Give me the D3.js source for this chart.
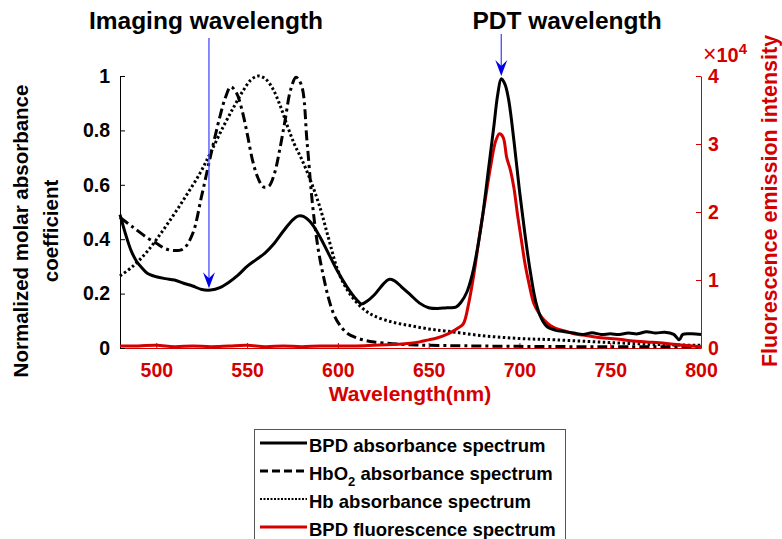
<!DOCTYPE html>
<html>
<head>
<meta charset="utf-8">
<script src="https://cdn.jsdelivr.net/npm/d3@7"></script>
<style>
  body { margin: 0; background: #fff; }
  text { font-family: "Liberation Sans", Arial, sans-serif; font-weight: bold; }
</style>
</head>
<body>
<script>
//BPD absorbance spectrum (normalized)
var bpdWl = [480,483,486,489,492,495,500,505,510,515,520,525,530,535,540,545,550,555,560,565,570,575,578,581,585,590,595,600,605,610,613,616,620,625,628,631,635,640,645,650,655,660,665,668,671,674,677,680,683,686,688,690,692,694,697,700,703,706,709,712,715,720,725,730,735,740,745,750,755,760,765,770,775,780,785,788,790,795,800];
var bpdAbs = [0.49,0.42,0.36,0.32,0.295,0.275,0.262,0.255,0.25,0.238,0.228,0.215,0.213,0.222,0.242,0.268,0.3,0.325,0.35,0.385,0.43,0.47,0.485,0.484,0.462,0.41,0.345,0.28,0.225,0.18,0.162,0.172,0.195,0.235,0.252,0.248,0.225,0.195,0.165,0.148,0.145,0.148,0.15,0.17,0.205,0.27,0.37,0.5,0.66,0.82,0.93,0.99,0.97,0.915,0.76,0.58,0.42,0.28,0.17,0.11,0.08,0.065,0.06,0.055,0.05,0.056,0.05,0.052,0.05,0.055,0.052,0.06,0.055,0.058,0.05,0.03,0.05,0.052,0.05];

//HbO2 absorbance spectrum (normalized)
var hbo2Wl = [480,487,495,500,505,510,515,520,525,530,535,538,541,544,547,550,553,556,559,562,565,568,571,574,577,580,583,586,589,592,595,598,601,605,610,615,620,630,640,650,670,700,730,760,800];
var hbo2Abs = [0.48,0.445,0.405,0.385,0.365,0.358,0.365,0.42,0.56,0.71,0.85,0.92,0.96,0.94,0.88,0.79,0.69,0.625,0.592,0.595,0.64,0.73,0.84,0.95,0.995,0.965,0.76,0.53,0.37,0.265,0.18,0.12,0.085,0.055,0.038,0.028,0.022,0.016,0.012,0.01,0.008,0.006,0.005,0.005,0.004];

//Hb absorbance spectrum (normalized)
var hbWl = [480,487,495,505,515,524,530,537,543,548,552,556,560,564,568,572,576,580,585,590,595,600,605,610,615,620,630,640,650,660,680,700,720,750,780,800];
var hbAbs = [0.265,0.3,0.355,0.445,0.545,0.642,0.72,0.815,0.89,0.948,0.985,1.0,0.99,0.955,0.895,0.82,0.75,0.695,0.615,0.52,0.4,0.285,0.215,0.17,0.138,0.118,0.095,0.082,0.07,0.062,0.045,0.035,0.03,0.02,0.012,0.01];

//BPD fluorescence emission (counts)
var flWl = [480,490,500,510,520,530,540,550,560,570,580,590,600,610,620,630,640,645,650,655,660,663,666,669,672,675,678,681,684,687,689,691,693,695,697,699,701,703,705,708,711,714,717,720,725,730,735,740,745,750,755,760,770,780,790,800];
var flInt = [300,300,400,200,300,200,300,400,200,300,200,300,300,300,400,500,700,900,1200,1500,2000,2400,2900,3500,6500,11000,16500,21500,26500,30500,31500,31000,28000,26200,23500,19500,16000,12500,9800,6500,5000,4000,3300,2900,2500,2100,1900,1700,1500,1400,1300,1100,900,700,400,200];

//tick values and legend labels
var xTicks = [500,550,600,650,700,750,800];
var yTicks = [0,0.2,0.4,0.6,0.8,1];
var y2Ticks = [0,10000,20000,30000,40000];
var legendNames = ["BPD absorbance spectrum", "HbO", "Hb absorbance spectrum", "BPD fluorescence spectrum"];

window.onload = function(){
  var red = "#d40000";
  var svg = d3.select("body")
    .append("svg")
    .attr("width", 782)
    .attr("height", 539);

  //scales
  var x = d3.scaleLinear().domain([480, 800]).range([120, 701]);
  var y = d3.scaleLinear().domain([0, 1]).range([348, 76]);
  var y2 = d3.scaleLinear().domain([0, 40000]).range([348, 76]);

  //line generators
  var absLine = function(wl){
    return d3.line()
      .x(function(d, i){ return x(wl[i]); })
      .y(function(d){ return y(d); })
      .curve(d3.curveCatmullRom);
  };
  var flLine = d3.line()
    .x(function(d, i){ return x(flWl[i]); })
    .y(function(d){ return y2(d); })
    .curve(d3.curveCatmullRom);

  //axes, ticks pointing into the plot
  var xAxis = svg.append("g")
    .attr("transform", "translate(0,348)")
    .call(d3.axisBottom(x).tickValues(xTicks).tickSize(-5).tickSizeOuter(0).tickPadding(15));
  xAxis.selectAll("line, path").attr("stroke", red);
  xAxis.selectAll("text").attr("fill", red).style("font-size", "19.5px").style("font-family", null);

  var yAxis = svg.append("g")
    .attr("transform", "translate(120,0)")
    .call(d3.axisLeft(y).tickValues(yTicks).tickSize(-5).tickSizeOuter(0).tickPadding(10)
      .tickFormat(function(d){ return d === 0 || d === 1 ? d : d3.format(".1f")(d); }));
  yAxis.selectAll("text").attr("fill", "#000").style("font-size", "19.5px").style("font-family", null);

  var y2Axis = svg.append("g")
    .attr("transform", "translate(701,0)")
    .call(d3.axisRight(y2).tickValues(y2Ticks).tickSize(-5).tickSizeOuter(0).tickPadding(7)
      .tickFormat(function(d){ return d / 10000; }));
  y2Axis.selectAll("line, path").attr("stroke", red);
  y2Axis.selectAll("text").attr("fill", red).style("font-size", "19.5px").style("font-family", null);

  //data lines
  svg.append("path")
    .datum(hbAbs)
    .attr("d", absLine(hbWl))
    .attr("fill", "none")
    .attr("stroke", "#000")
    .attr("stroke-width", 3)
    .attr("stroke-dasharray", "2.5,2.5");

  svg.append("path")
    .datum(hbo2Abs)
    .attr("d", absLine(hbo2Wl))
    .attr("fill", "none")
    .attr("stroke", "#000")
    .attr("stroke-width", 3)
    .attr("stroke-dasharray", "10,4,3,4");

  svg.append("path")
    .datum(flInt)
    .attr("d", flLine)
    .attr("fill", "none")
    .attr("stroke", red)
    .attr("stroke-width", 3);

  svg.append("path")
    .datum(bpdAbs)
    .attr("d", absLine(bpdWl))
    .attr("fill", "none")
    .attr("stroke", "#000")
    .attr("stroke-width", 3);

  //multiplier above right axis
  var mult = svg.append("text")
    .attr("x", 703)
    .attr("y", 62)
    .attr("fill", red)
    .style("font-size", "20px");
  mult.append("tspan").style("font-weight", "normal").style("font-size", "23px").text("\u00d7");
  mult.append("tspan").text("10");
  mult.append("tspan").attr("dy", -8).style("font-size", "15px").text("4");

  //axis titles
  svg.append("text")
    .attr("x", 410)
    .attr("y", 401)
    .attr("text-anchor", "middle")
    .attr("fill", red)
    .style("font-size", "21px")
    .text("Wavelength(nm)");

  svg.append("text")
    .attr("transform", "translate(28,231) rotate(-90)")
    .attr("text-anchor", "middle")
    .style("font-size", "20.5px")
    .text("Normalized molar absorbance");
  svg.append("text")
    .attr("transform", "translate(58,231) rotate(-90)")
    .attr("text-anchor", "middle")
    .style("font-size", "20.5px")
    .text("coefficient");

  svg.append("text")
    .attr("transform", "translate(777,201) rotate(-90)")
    .attr("text-anchor", "middle")
    .attr("fill", red)
    .style("font-size", "21.5px")
    .text("Fluorescence emission intensity");

  //annotations with arrows
  var arrows = [
    {label: "Imaging wavelength", wl: 529, tip: y(0.22), lx: 206, top: 38},
    {label: "PDT wavelength", wl: 690, tip: y(1.0), lx: 567, top: 34}
  ];
  arrows.forEach(function(a){
    var ax = x(a.wl);
    svg.append("text")
      .attr("x", a.lx)
      .attr("y", 29)
      .attr("text-anchor", "middle")
      .style("font-size", "24.5px")
      .text(a.label);
    svg.append("line")
      .attr("x1", ax).attr("x2", ax)
      .attr("y1", a.top).attr("y2", a.tip - 8)
      .attr("stroke", "#4a4aff")
      .attr("stroke-width", 1.3);
    svg.append("path")
      .attr("d", "M" + ax + "," + a.tip + " L" + (ax - 6) + "," + (a.tip - 16) +
        " L" + ax + "," + (a.tip - 10) + " L" + (ax + 6) + "," + (a.tip - 16) + "Z")
      .attr("fill", "#0000ee");
  });

  //legend
  var legend = svg.append("g");
  legend.append("rect")
    .attr("x", 254.5)
    .attr("y", 429.5)
    .attr("width", 311)
    .attr("height", 120)
    .attr("fill", "#fff")
    .attr("stroke", "#555")
    .attr("stroke-width", 1);

  var styles = [
    {stroke: "#000", dash: null},
    {stroke: "#000", dash: "8,4"},
    {stroke: "#000", dash: "2,1.5", width: 2},
    {stroke: red, dash: null}
  ];
  legendNames.forEach(function(name, i){
    var ly = 443 + i * 28;
    legend.append("line")
      .attr("x1", 260).attr("x2", 307)
      .attr("y1", ly).attr("y2", ly)
      .attr("stroke", styles[i].stroke)
      .attr("stroke-width", styles[i].width || 3)
      .attr("stroke-dasharray", styles[i].dash);
    var t = legend.append("text")
      .attr("x", 309)
      .attr("y", ly + 9)
      .style("font-size", "18.5px");
    if (i === 1) {
      t.append("tspan").text(name);
      t.append("tspan").attr("dy", 6).style("font-size", "13px").text("2");
      t.append("tspan").attr("dy", -6).text(" absorbance spectrum");
    } else {
      t.text(name);
    }
  });
};
</script>
</body>
</html>
